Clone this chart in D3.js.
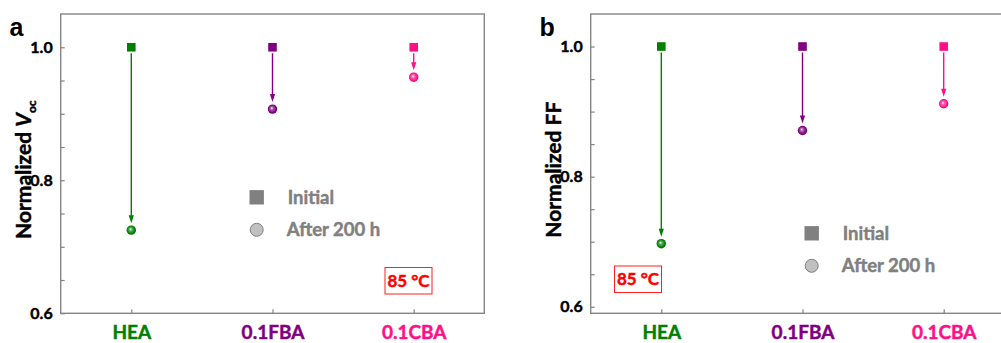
<!DOCTYPE html>
<html>
<head>
<meta charset="utf-8">
<script src="https://cdn.jsdelivr.net/npm/d3@7"></script>
<style>
  html, body { margin: 0; padding: 0; background: #fff; }
  svg { display: block; }
  text { font-family: Lato, "Open Sans", sans-serif; font-weight: bold; }
  text.heavy { stroke-width: 0.45px; }
</style>
</head>
<body>
<svg id="chart" width="1001" height="343"></svg>
<script>
// Samples and their normalized values before / after 200 h aging at 85 °C
const categories = ["HEA", "0.1FBA", "0.1CBA"];
const vocInitial = [1.0, 1.0, 1.0];
const vocAfter = [0.725, 0.907, 0.955];
const ffInitial = [1.0, 1.0, 1.0];
const ffAfter = [0.697, 0.871, 0.912];
const majorTicks = [0.6, 0.8, 1.0];
const minorTicks = [0.65, 0.7, 0.75, 0.85, 0.9, 0.95];
const legendLabels = ["Initial", "After 200 h"];
const tempLabel = "85 °C";

const sampleColors = ["#008000", "#800080", "#ff1088"];
const frameColor = "#858585";

const svg = d3.select("#chart");

// Bold text with a thin outline in its own colour for a heavier weight
function heavy(sel, color) {
  return sel.classed("heavy", true).attr("stroke", color);
}

// Sphere-like shading for the aged-sample markers
const defs = svg.append("defs");
function sphereGradient(id, color) {
  const g = defs.append("radialGradient")
    .attr("id", id).attr("cx", "50%").attr("cy", "50%").attr("r", "55%")
    .attr("fx", "40%").attr("fy", "38%");
  g.append("stop").attr("offset", "0%").attr("stop-color", "#ffffff");
  g.append("stop").attr("offset", "30%").attr("stop-color", d3.interpolateRgb(color, "#fff")(0.35));
  g.append("stop").attr("offset", "75%").attr("stop-color", color);
  g.append("stop").attr("offset", "100%").attr("stop-color", d3.interpolateRgb(color, "#000")(0.25));
}
sampleColors.forEach((c, i) => sphereGradient("sph" + i, c));

function drawPanel(cfg) {
  const { left, right, top, bottom, domain, initial, after } = cfg;
  const g = svg.append("g");

  const x = d3.scalePoint().domain(categories).range([left, right]).padding(0.5);
  const y = d3.scaleLinear().domain(domain).range([bottom, top]);

  // frame
  g.append("rect")
    .attr("x", left).attr("y", top)
    .attr("width", right - left).attr("height", bottom - top)
    .attr("fill", "none").attr("stroke", frameColor).attr("stroke-width", 1.4);

  // left axis with inward ticks
  const yAxis = d3.axisLeft(y).tickValues(majorTicks).tickFormat(d3.format(".1f"))
    .tickSizeInner(-4).tickSizeOuter(0).tickPadding(8);
  const ya = g.append("g").attr("transform", `translate(${left},0)`).call(yAxis);
  ya.select(".domain").remove();
  ya.selectAll(".tick line").attr("stroke", frameColor).attr("stroke-width", 1.2);
  heavy(ya.selectAll(".tick text").attr("fill", "#000"), "#000")
    .style("font-size", "16px").style("font-weight", "bold")
    .style("font-family", "Lato, sans-serif");

  const yMinor = d3.axisLeft(y).tickValues(minorTicks).tickFormat("").tickSizeInner(-4).tickSizeOuter(0);
  const ym = g.append("g").attr("transform", `translate(${left},0)`).call(yMinor);
  ym.select(".domain").remove();
  ym.selectAll(".tick line").attr("stroke", frameColor).attr("stroke-width", 1.2);

  // bottom axis with inward ticks and coloured sample names
  const xAxis = d3.axisBottom(x).tickSizeInner(-4).tickSizeOuter(0).tickPadding(12);
  const xa = g.append("g").attr("transform", `translate(0,${bottom})`).call(xAxis);
  xa.select(".domain").remove();
  xa.selectAll(".tick line").attr("stroke", frameColor).attr("stroke-width", 1.2);
  xa.selectAll(".tick text")
    .attr("fill", (d, i) => sampleColors[i])
    .attr("stroke", (d, i) => sampleColors[i])
    .classed("heavy", true)
    .style("font-size", "19px").style("font-weight", "bold").style("font-family", "Lato, sans-serif");

  // arrows from initial to aged values
  categories.forEach((c, i) => {
    const cx = x(c);
    const y0 = y(initial[i]) + 6;
    const tip = y(after[i]) - 7;
    const headLen = 8, headW = 2.6;
    g.append("line")
      .attr("x1", cx).attr("x2", cx).attr("y1", y0).attr("y2", tip - headLen + 1)
      .attr("stroke", sampleColors[i]).attr("stroke-width", 1.4);
    g.append("path")
      .attr("d", `M${cx - headW},${tip - headLen} L${cx + headW},${tip - headLen} L${cx},${tip} Z`)
      .attr("fill", sampleColors[i]);
  });

  // initial markers (squares)
  g.selectAll("rect.init").data(initial).join("rect")
    .attr("class", "init")
    .attr("x", (d, i) => x(categories[i]) - 4.3)
    .attr("y", d => y(d) - 4.3)
    .attr("width", 8.6).attr("height", 8.6)
    .attr("fill", (d, i) => sampleColors[i]);

  // aged markers (shaded spheres)
  g.selectAll("circle.aged").data(after).join("circle")
    .attr("class", "aged")
    .attr("cx", (d, i) => x(categories[i]))
    .attr("cy", d => y(d))
    .attr("r", 4.7)
    .attr("fill", (d, i) => `url(#sph${i})`);

  // legend
  const lg = g.append("g").attr("transform", `translate(${cfg.legendX},${cfg.legendY})`);
  lg.append("rect").attr("x", -7.2).attr("y", -7.2).attr("width", 14.4).attr("height", 14.4)
    .attr("fill", "#808080");
  lg.append("circle").attr("cx", 0).attr("cy", 32.5).attr("r", 6.5)
    .attr("fill", "#c0c0c0").attr("stroke", "#808080").attr("stroke-width", 1);
  heavy(lg.append("text").attr("x", 31).attr("y", 6.5).attr("fill", "#808080"), "#808080")
    .style("font-size", "18.5px").text(legendLabels[0]);
  heavy(lg.append("text").attr("x", 30).attr("y", 39).attr("fill", "#808080"), "#808080")
    .style("font-size", "18.5px").text(legendLabels[1]);

  // temperature tag
  const tg = g.append("g");
  tg.append("rect").attr("x", cfg.tagX).attr("y", cfg.tagY).attr("width", 47).attr("height", 26.5)
    .attr("fill", "#fff").attr("stroke", "#ff2020").attr("stroke-width", 1);
  heavy(tg.append("text").attr("x", cfg.tagX + 23.5).attr("y", cfg.tagY + 19)
    .attr("text-anchor", "middle").attr("fill", "#ff0000"), "#ff0000")
    .style("font-size", "17px").text(tempLabel);

  // panel letter
  g.append("text").attr("x", cfg.letterX).attr("y", 35.5).attr("fill", "#000")
    .style("font-family", "'Liberation Sans', Arial, sans-serif")
    .style("font-size", "25px").text(cfg.letter);

  // y title
  const t = heavy(g.append("text")
    .attr("transform", `translate(${cfg.titleX},${(top + bottom) / 2 + 6}) rotate(-90)`)
    .attr("text-anchor", "middle").attr("fill", "#000"), "#000").style("font-size", "21px");
  cfg.title(t);
}

drawPanel({
  left: 60.7, right: 484.3, top: 14, bottom: 313.3,
  domain: [0.6, 1.05], initial: vocInitial, after: vocAfter,
  legendX: 256.7, legendY: 197.3, tagX: 385, tagY: 267.5,
  letter: "a", letterX: 9.5, titleX: 31,
  title: t => {
    t.append("tspan").text("Normalized ");
    t.append("tspan").style("font-style", "italic").text("V");
    t.append("tspan").attr("dy", 5).style("font-size", "12px").text("oc");
  }
});

drawPanel({
  left: 590.7, right: 1014.3, top: 14, bottom: 313.3,
  domain: [0.59, 1.05], initial: ffInitial, after: ffAfter,
  legendX: 811.7, legendY: 233.3, tagX: 614.5, tagY: 266,
  letter: "b", letterX: 539.5, titleX: 561,
  title: t => { t.text("Normalized FF"); }
});
</script>
</body>
</html>
